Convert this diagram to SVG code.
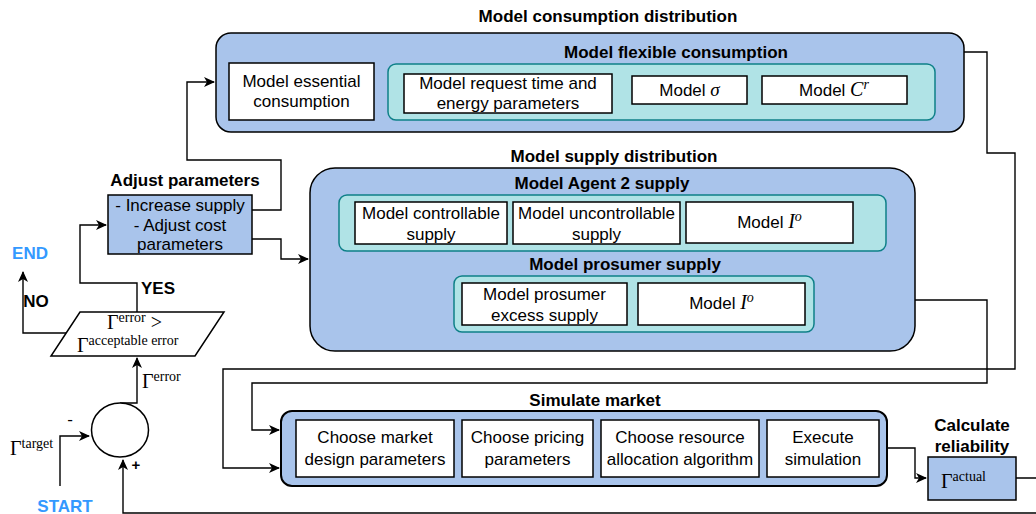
<svg xmlns="http://www.w3.org/2000/svg" width="1036" height="514" viewBox="0 0 1036 514">
<style>
.blue{fill:#A9C4EB;stroke:#000;stroke-width:1.5}
.teal{fill:#B0E3E6;stroke:#0E8088;stroke-width:1.5}
.wb{fill:#fff;stroke:#000;stroke-width:1.5}
.t{font-family:"Liberation Sans",Arial,sans-serif;font-size:17px;fill:#000;text-anchor:middle}
.b{font-family:"Liberation Sans",Arial,sans-serif;font-size:17px;font-weight:bold;fill:#000;text-anchor:middle}
.m{font-family:"Liberation Serif","Times New Roman",serif;font-size:20px;fill:#000}
.ms{font-size:14px}
.mi{font-style:italic}
.blueT{fill:#3399FF}
.c{fill:none;stroke:#000;stroke-width:1.4}
</style>
<defs>
<marker id="ar" markerWidth="12" markerHeight="10" refX="10" refY="5" orient="auto" markerUnits="userSpaceOnUse">
<path d="M0,0 L11,5 L0,10 L3,5 z" fill="#000"/>
</marker>
</defs>

<g id="connectors">
<path class="c" d="M252,210 H281 V160 H187 V82 H214" marker-end="url(#ar)"/>
<path class="c" d="M252,239 H281 V259 H308" marker-end="url(#ar)"/>
<path class="c" d="M964,52 H987 V153 H1015 V369 H223 V468 H279" marker-end="url(#ar)"/>
<path class="c" d="M915,300 H987 V383 H252 V430 H279" marker-end="url(#ar)"/>
<path class="c" d="M887,448 H915 V478 H926" marker-end="url(#ar)"/>
<path class="c" d="M1016,478 H1040 V513 H123 V460" marker-end="url(#ar)"/>
<path class="c" d="M60,486 V436 H89" marker-end="url(#ar)"/>
<path class="c" d="M120,403 H137 V358" marker-end="url(#ar)"/>
<path class="c" d="M137,312 V283 H80 V225 H106" marker-end="url(#ar)"/>
<path class="c" d="M66,333 H23 V272" marker-end="url(#ar)"/>
</g>

<g id="consumption">
<text class="b" x="608" y="22">Model consumption distribution</text>
<rect class="blue" x="216" y="33" width="748" height="99" rx="15"/>
<text class="b" x="676" y="58">Model flexible consumption</text>
</g>
<g id="essential">
<rect class="wb" x="229" y="63" width="145" height="57"/>
<text class="t" x="301.5" y="87">Model essential</text>
<text class="t" x="301.5" y="107">consumption</text>
</g>
<g id="flexible">
<rect class="teal" x="388" y="64" width="547" height="56" rx="8"/>
</g>
<g id="request">
<rect class="wb" x="404" y="74" width="208" height="39"/>
<text class="t" x="508" y="89">Model request time and</text>
<text class="t" x="508" y="109">energy parameters</text>
</g>
<g id="sigma">
<rect class="wb" x="632" y="76" width="115" height="28"/>
<text class="t" x="689.5" y="96">Model <tspan class="m mi" style="font-size:19px">σ</tspan></text>
</g>
<g id="cr">
<rect class="wb" x="762" y="76" width="145" height="28"/>
<text class="t" x="834" y="96">Model <tspan class="m mi">C</tspan><tspan class="m mi ms" dy="-7">r</tspan></text>
</g>

<g id="supply">
<text class="b" x="614" y="162">Model supply distribution</text>
<rect class="blue" x="310" y="168" width="605" height="183" rx="25"/>
</g>
<g id="agent2">
<text class="b" x="602" y="189">Model Agent 2 supply</text>
<rect class="teal" x="339" y="195" width="547" height="56" rx="8"/>
</g>
<g id="controllable">
<rect class="wb" x="355" y="202" width="152" height="42"/>
<text class="t" x="431" y="219">Model controllable</text>
<text class="t" x="431" y="240">supply</text>
</g>
<g id="uncontrollable">
<rect class="wb" x="513" y="202" width="167" height="42"/>
<text class="t" x="596.5" y="219">Model uncontrollable</text>
<text class="t" x="596.5" y="240">supply</text>
</g>
<g id="io1">
<rect class="wb" x="686" y="202" width="167" height="41"/>
<text class="t" x="769.5" y="228">Model <tspan class="m mi">I</tspan><tspan class="m mi ms" dy="-7">o</tspan></text>
</g>
<g id="prosumer">
<text class="b" x="625" y="270">Model prosumer supply</text>
<rect class="teal" x="454" y="276" width="360" height="56" rx="8"/>
</g>
<g id="excess">
<rect class="wb" x="462" y="283" width="165" height="42"/>
<text class="t" x="544.5" y="300">Model prosumer</text>
<text class="t" x="544.5" y="321">excess supply</text>
</g>
<g id="io2">
<rect class="wb" x="638" y="283" width="167" height="42"/>
<text class="t" x="721.5" y="309">Model <tspan class="m mi">I</tspan><tspan class="m mi ms" dy="-7">o</tspan></text>
</g>

<g id="simulate">
<text class="b" x="595" y="406">Simulate market</text>
<rect class="blue" x="281" y="411" width="606" height="75" rx="11" style="stroke-width:2"/>
</g>
<g id="market-design">
<rect class="wb" x="296" y="420" width="158" height="57"/>
<text class="t" x="375" y="443">Choose market</text>
<text class="t" x="375" y="465">design parameters</text>
</g>
<g id="pricing">
<rect class="wb" x="462" y="420" width="131" height="57"/>
<text class="t" x="527.5" y="443">Choose pricing</text>
<text class="t" x="527.5" y="465">parameters</text>
</g>
<g id="allocation">
<rect class="wb" x="601" y="420" width="158" height="57"/>
<text class="t" x="680" y="443">Choose resource</text>
<text class="t" x="680" y="465">allocation algorithm</text>
</g>
<g id="execute">
<rect class="wb" x="767" y="420" width="112" height="57"/>
<text class="t" x="823" y="443">Execute</text>
<text class="t" x="823" y="465">simulation</text>
</g>

<g id="reliability">
<text class="b" x="972" y="431">Calculate</text>
<text class="b" x="972" y="452">reliability</text>
<rect class="blue" x="928" y="457" width="88" height="43"/>
<text class="m" x="941" y="488">Γ<tspan class="ms" dy="-7">actual</tspan></text>
</g>

<g id="adjust">
<text class="b" x="185" y="186">Adjust parameters</text>
<rect class="blue" x="108" y="195" width="144" height="59"/>
<text class="t" x="180" y="211">- Increase supply</text>
<text class="t" x="180" y="231">- Adjust cost</text>
<text class="t" x="180" y="250">parameters</text>
</g>

<g id="decision">
<polygon points="80,312 224,312 195,356 51,356" fill="#fff" stroke="#000" stroke-width="1.5"/>
<text class="m" x="107" y="329">Γ<tspan class="ms" dy="-7">error</tspan><tspan dy="7"> &gt;</tspan></text>
<text class="m" x="77" y="352">Γ<tspan class="ms" dy="-7">acceptable error</tspan></text>
</g>

<g id="sum">
<ellipse cx="120" cy="430" rx="28.5" ry="27" fill="#fff" stroke="#000" stroke-width="1.5"/>
<text class="t" x="70" y="425">-</text>
<text class="b" x="136" y="470" style="font-size:15px">+</text>
</g>

<g id="labels">
<text class="m" x="142" y="388">Γ<tspan class="ms" dy="-7">error</tspan></text>
<text class="m" x="10" y="455">Γ<tspan class="ms" dy="-7">target</tspan></text>
<text class="b blueT" x="30" y="259">END</text>
<text class="b" x="36" y="307">NO</text>
<text class="b" x="158" y="294">YES</text>
<text class="b blueT" x="65" y="512">START</text>
</g>
</svg>
